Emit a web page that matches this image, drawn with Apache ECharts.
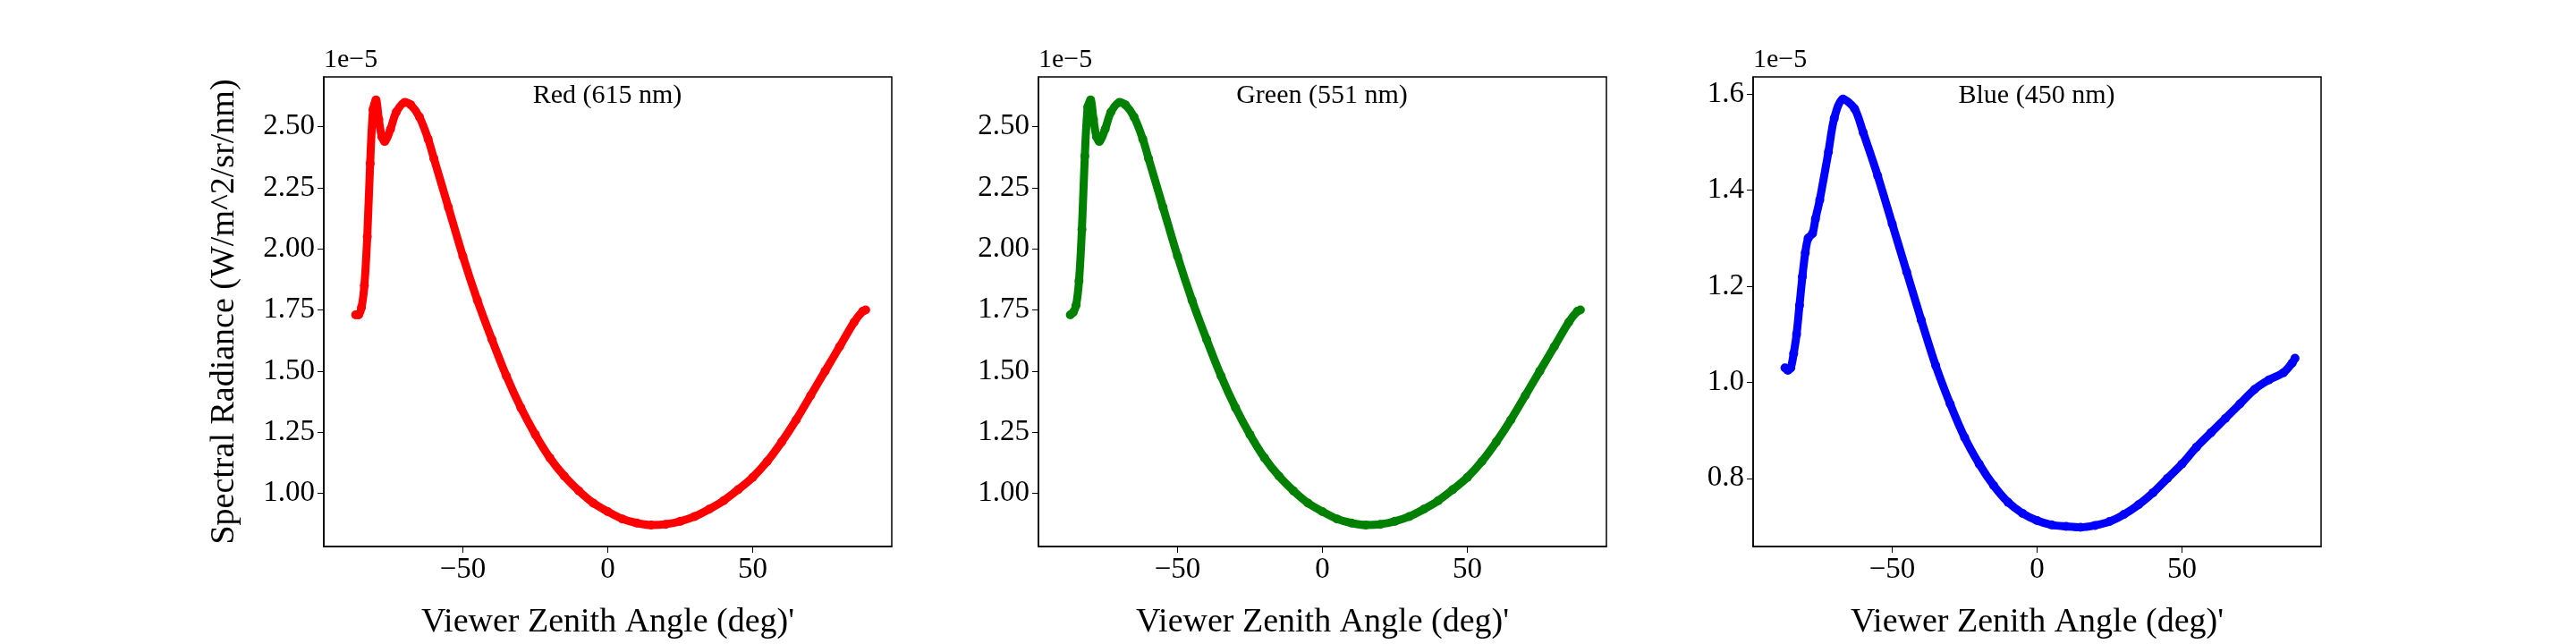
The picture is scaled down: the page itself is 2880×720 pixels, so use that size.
<!DOCTYPE html>
<html>
<head>
<meta charset="utf-8">
<title>Spectral Radiance</title>
<script src="https://cdn.jsdelivr.net/npm/echarts@6/dist/echarts.min.js"></script>
</head>
<body style="margin:0;background:#fff">
<div id="main" style="width:2880px;height:720px;"></div>
<script>
// values are in units of 1e-5 W/m^2/sr/nm
var redX = [-87,-86,-85,-84,-83,-82,-81,-80,-79,-78,-77,-75,-73,-70,-68,-65,-62,-60,-55,-50,-45,-40,-35,-30,-25,-20,-15,-10,-5,0,5,10,15,20,25,30,35,40,45,50,55,60,65,70,75,80,85,88,89];
var redY = [1.73,1.73,1.76,1.85,2.05,2.35,2.57,2.61,2.53,2.46,2.44,2.49,2.56,2.60,2.59,2.54,2.45,2.37,2.17,1.97,1.79,1.63,1.48,1.35,1.24,1.145,1.07,1.01,0.96,0.925,0.895,0.878,0.87,0.873,0.885,0.905,0.935,0.97,1.015,1.065,1.13,1.21,1.30,1.40,1.50,1.60,1.70,1.745,1.75];
var greenX = redX;
var greenY = [1.73,1.74,1.77,1.87,2.08,2.38,2.58,2.61,2.53,2.46,2.44,2.49,2.56,2.60,2.59,2.54,2.45,2.37,2.17,1.97,1.79,1.63,1.48,1.35,1.24,1.145,1.07,1.01,0.96,0.925,0.895,0.878,0.87,0.873,0.885,0.905,0.935,0.97,1.015,1.065,1.13,1.21,1.30,1.40,1.50,1.60,1.70,1.745,1.75];
var blueX = [-87,-86,-85,-84,-83,-82,-81,-80,-79,-77.5,-76.5,-75,-72,-70,-67,-63,-60,-55,-50,-45,-40,-35,-30,-25,-20,-15,-10,-5,0,5,10,15,20,25,30,35,40,45,50,55,60,65,70,75,80,85,88,89];
var blueY = [1.03,1.025,1.03,1.06,1.10,1.16,1.22,1.27,1.30,1.31,1.34,1.38,1.48,1.55,1.59,1.57,1.52,1.43,1.33,1.23,1.13,1.035,0.955,0.885,0.83,0.785,0.75,0.727,0.712,0.703,0.70,0.698,0.702,0.71,0.725,0.745,0.77,0.80,0.83,0.865,0.895,0.925,0.955,0.985,1.005,1.02,1.04,1.05];
var titles = ['Red (615 nm)', 'Green (551 nm)', 'Blue (450 nm)'];
var colors = ['#ff0000', '#008000', '#0000ff'];
var xTicks = [-50, 0, 50];
var yTicksRG = [1.00, 1.25, 1.50, 1.75, 2.00, 2.25, 2.50];
var yTicksB = [0.8, 1.0, 1.2, 1.4, 1.6];

var font = 'Liberation Serif';
var lefts = [362, 1161, 1960];
var yRanges = [[0.782, 2.704], [0.782, 2.704], [0.658, 1.636]];
var yTickSets = [yTicksRG, yTicksRG, yTicksB];
var decimals = [2, 2, 1];
var xs = [redX, greenX, blueX], ys = [redY, greenY, blueY];

function pairs(a, b) { return a.map(function (v, i) { return [v, b[i]]; }); }

var option = {
    backgroundColor: '#fff',
    animation: false,
    grid: [], xAxis: [], yAxis: [], series: [], graphic: []
};
for (var i = 0; i < 3; i++) {
    option.grid.push({left: lefts[i], top: 86, width: 635, height: 540, show: true, borderColor: '#000', borderWidth: 1.5});
    option.xAxis.push({
        type: 'value', gridIndex: i, min: -98, max: 98,
        name: "Viewer Zenith Angle (deg)'", nameLocation: 'middle', nameGap: 66,
        nameTextStyle: {fontFamily: font, fontSize: 38, color: '#000'},
        axisLine: {onZero: false, lineStyle: {color: '#000', width: 1.5}},
        axisTick: {show: true, length: 7, customValues: xTicks, lineStyle: {color: '#000'}},
        axisLabel: {customValues: xTicks, fontFamily: font, fontSize: 33, color: '#000', margin: 10,
            formatter: function (v) { return String(v).replace('-', '\u2212'); }},
        splitLine: {show: false}
    });
    (function (d) {
        option.yAxis.push({
            type: 'value', gridIndex: i, min: yRanges[i][0], max: yRanges[i][1],
            name: i === 0 ? 'Spectral Radiance (W/m^2/sr/nm)' : '', nameLocation: 'middle', nameGap: 92,
            nameTextStyle: {fontFamily: font, fontSize: 38, color: '#000'},
            axisLine: {show: true, onZero: false, lineStyle: {color: '#000', width: 1.5}},
            axisTick: {show: true, length: 7, customValues: yTickSets[i], lineStyle: {color: '#000'}},
            axisLabel: {customValues: yTickSets[i], fontFamily: font, fontSize: 33, color: '#000', margin: 10,
                formatter: function (v) { return v.toFixed(d); }},
            splitLine: {show: false}
        });
    })(decimals[i]);
    option.series.push({
        type: 'line', xAxisIndex: i, yAxisIndex: i, smooth: 0.3,
        data: pairs(xs[i], ys[i]),
        symbol: 'circle', symbolSize: 10, showSymbol: true,
        itemStyle: {color: colors[i]},
        lineStyle: {color: colors[i], width: 9}
    });
    option.graphic.push({type: 'text', z: 100,
        style: {x: lefts[i] + 317, y: 92, text: titles[i], font: '30px "' + font + '"', fill: '#000', textAlign: 'center'}});
    option.graphic.push({type: 'text', z: 100,
        style: {x: lefts[i], y: 52, text: '1e\u22125', font: '30px "' + font + '"', fill: '#000'}});
}

var myChart = echarts.init(document.getElementById('main'));
myChart.setOption(option);
</script>
</body>
</html>
